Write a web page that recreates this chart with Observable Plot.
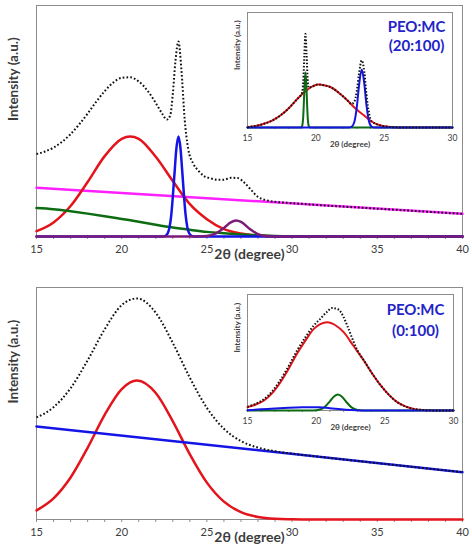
<!DOCTYPE html>
<html><head><meta charset="utf-8">
<script src="https://cdn.jsdelivr.net/npm/d3@7"></script>
<script src="https://cdn.jsdelivr.net/npm/@observablehq/plot@0.6"></script>
<style>
body{margin:0;background:#fff;}
#wrap{position:relative;width:472px;height:550px;overflow:hidden;}
#wrap svg{display:block;}
</style></head><body><div id="wrap"></div>
<script>
// ---------- tick labels ----------
const xTicksMain = [15, 20, 25, 30, 35, 40];
const xTicksInset = [15, 20, 25, 30];

// ---------- top panel PEO:MC (20:100) ----------
const topRedX = [15,16,17,18,19,20,20.5,21,22,23,24,25,26,27,28,29,30,40];
const topRedY = [2.3,6.1,13.2,23.6,34.8,42.3,43.3,42.3,34.5,24,14,7.5,3.2,1.3,0.4,0.1,0,0];
const topBlueX = [15,22.3,22.5,22.7,22.9,23.1,23.2,23.33,23.45,23.55,23.75,23.95,24.15,24.4,40];
const topBlueY = [0,0,0.1,1.4,8.7,27.4,37.4,43.3,38.2,28.5,9.4,1.5,0.1,0,0];
const topGreenX = [15,16,17,18,19,20,21,22,23,24,25,26,27,28,29,30,31,40];
const topGreenY = [12.3,11.8,10.9,9.9,8.8,7.6,6.4,5.1,3.9,2.9,2.0,1.4,0.9,0.5,0.2,0.1,0,0];
const topPurpleX = [15,24,24.5,25,25.5,26,26.4,26.72,27,27.5,28,28.5,29,40];
const topPurpleY = [0,0,0.02,0.2,1.2,3.7,6.1,6.9,6.3,3.4,1.0,0.16,0,0];
const topMagentaX = [15,40];
const topMagentaY = [21.1,9.8];
const topDotX = [15,15.5,16,16.5,17,17.5,18,18.5,19,19.5,20,20.5,21,21.5,22,22.4,22.65,22.85,23.0,23.15,23.33,23.5,23.7,23.9,24.2,24.5,24.8,25.2,25.6,26,26.4,26.8,27.2,27.6,28,28.5,29,29.5,30,31,32,34,36,38,40];
const topDotY = [35.7,36.8,38.5,41.0,44.3,48.5,53.2,58.3,62.9,66.6,68.7,68.9,67.1,63.3,57.8,52.9,50.6,52.5,61.7,75.6,84.4,72.6,50.4,38,31.5,28.5,26.3,25.2,24.6,24.6,25.4,25.3,23.3,20.1,17.1,15.7,15.0,14.7,14.4,13.9,13.4,12.5,11.6,10.7,9.8];

// ---------- top inset ----------
const tiRedX = [15,15.6,16.2,16.8,17.4,18,18.66,19.2,19.63,20.17,20.7,21.1,21.7,22.32,22.9,23.54,24.1,24.76,25.4,26,27,30];
const tiRedY = [0.3,1.3,3.2,6,10.4,16.5,25,31,35,37.4,36.5,35,30,23.5,16.5,10.4,5,1.7,0.5,0.1,0,0];
const tiGreenX = [15,18.9,19.0,19.08,19.16,19.24,19.32,19.4,19.48,19.58,30];
const tiGreenY = [0,0,1.4,9.9,32.3,48,32.3,9.9,1.4,0,0];
const tiBlueX = [15,22.4,22.6,22.8,23.0,23.15,23.36,23.55,23.7,23.9,24.1,24.3,30];
const tiBlueY = [0,0,0.5,4.1,17.9,35.4,50.4,37.7,20,4.9,0.6,0,0];
const tiDotX = [15,15.6,16.2,16.8,17.4,18,18.66,18.9,19.0,19.08,19.16,19.24,19.32,19.4,19.48,19.63,20.17,20.7,21.1,21.7,22.32,22.6,22.8,23.0,23.15,23.36,23.55,23.7,23.9,24.1,24.76,25.4,26,27,30];
const tiDotY = [0.3,1.3,3.2,6,10.4,16.5,25,28,30.5,40,63,81.5,64,42,34.5,35,37.4,36.5,35,30,23.5,20.5,22,32,46,58.3,48,29,12,5.2,1.7,0.5,0.1,0,0];

// ---------- bottom panel PEO:MC (0:100) ----------
const botRedX = [15,16,17,18,19,20,20.9,22,23,24,25,26,27,28,29,30,31,40];
const botRedY = [3.9,9.1,18.1,30.9,45.1,56.2,59.9,54.5,42.3,28.1,15.9,7.7,3.2,1.1,0.3,0.1,0,0];
const botBlueX = [15,40];
const botBlueY = [40.1,20.4];
const botDotX = [15,16,17,18,19,20,20.9,22,23,24,25,26,27,28,29,30,32,35,40];
const botDotY = [44.0,48.4,56.6,68.6,82.0,92.4,95.3,89.1,76.1,61.1,48.1,39.1,33.8,31.0,29.4,28.4,26.7,24.3,20.4];

// ---------- bottom inset ----------
const biRedX = [15,15.6,16.2,16.8,17.4,18,18.6,19.2,19.83,20.3,20.8,21.4,22.0,22.7,23.47,24.1,24.7,25.3,25.9,26.5,27.1,28,29,30];
const biRedY = [2.9,5.2,8.6,15,24.4,36,48.9,60,70.4,74.5,76.1,73.5,67.5,56,43.1,31.5,21.6,13.5,7.2,3.5,1.4,0.3,0,0];
const biGreenX = [15,19.8,20.2,20.6,21.0,21.3,21.58,21.9,22.2,22.6,23.0,23.4,23.8,30];
const biGreenY = [0,0.07,0.6,2.8,7.9,12.1,13.8,11.7,7.3,2.5,0.5,0.05,0,0];
const biBlueX = [15,16,17,18,19,19.6,20.2,21,21.8,22.5,23.2,24,30];
const biBlueY = [0.3,1.0,1.8,2.4,2.8,2.9,2.7,2.0,1.1,0.5,0.1,0,0];
const biDotX = [15,15.6,16.2,16.8,17.4,18,18.6,19.2,19.83,20.3,20.8,21.17,21.58,22.0,22.3,22.7,23.0,23.47,24.1,24.7,25.3,25.9,26.5,27.1,28,29,30];
const biDotY = [3.2,5.8,9.8,16.6,26.4,38.4,51.5,62.8,73.3,79,85.2,88.3,87.3,80.5,72,60,52,43.2,31.5,21.6,13.5,7.2,3.5,1.4,0.3,0,0];

const pts = (xs, ys) => xs.map((x, i) => ({x, y: ys[i]}));
const FONT = "Lato, 'Open Sans', 'DejaVu Sans', sans-serif";
const RED = "#e3141b", GREEN = "#0d6b12", BLUE = "#1414e6", MAGENTA = "#ff20ff", PURPLE = "#7b1b79";
const DOT = "#111", FRAME = "#8c8c8c", TXT = "#3c3c3c", TITLE = "#2424c8";

function mainPanel({height, marginTop, marginBottom, series, dotted}) {
  return Plot.plot({
    width: 472, height, marginLeft: 36, marginRight: 10, marginTop, marginBottom,
    x: {domain: [15, 40]}, y: {domain: [0, 100], axis: null},
    style: {fontFamily: FONT, background: "transparent", overflow: "visible"},
    marks: [
      Plot.frame({stroke: FRAME}),
      Plot.axisX({ticks: d3.range(15, 41), tickSize: 3, tickFormat: () => "", stroke: FRAME, label: null}),
      Plot.axisX({ticks: xTicksMain, tickSize: 0, tickPadding: 9, fontSize: 11, fill: TXT, label: null}),
      ...series.map(s => Plot.line(pts(s.x, s.y), {x: "x", y: "y", stroke: s.color, strokeWidth: 2.5, curve: "monotone-x"})),
      Plot.line(pts(dotted.x, dotted.y), {x: "x", y: "y", stroke: DOT, strokeWidth: 2, strokeDasharray: "1.7 2.1", strokeLinecap: "butt", curve: "monotone-x"}),
      Plot.text(["Intensity (a.u.)"], {text: d => d, frameAnchor: "left", rotate: -90, dx: -23, fontSize: 13.5, fontWeight: "bold", fill: TXT}),
      Plot.text(["2θ (degree)"], {text: d => d, frameAnchor: "bottom", dy: 18, lineAnchor: "middle", fontSize: 14, fontWeight: "bold", fill: TXT})
    ]
  });
}

function inset({left, top, height, marginRight, series, dotted, t1, t2, tdx, tdy1, tdy2}) {
  const p = Plot.plot({
    width: 235, height, marginLeft: 19, marginRight, marginTop: 4, marginBottom: 26,
    x: {domain: [15, 30]}, y: {domain: [0, 100], axis: null},
    style: {fontFamily: FONT, background: "transparent", overflow: "visible"},
    marks: [
      Plot.frame({stroke: FRAME, fill: "white"}),
      Plot.axisX({ticks: d3.range(15, 31), tickSize: 2, tickFormat: () => "", stroke: FRAME, label: null}),
      Plot.axisX({ticks: xTicksInset, tickSize: 0, tickPadding: 7, fontSize: 8.5, fill: TXT, label: null}),
      ...series.map(s => Plot.line(pts(s.x, s.y), {x: "x", y: "y", stroke: s.color, strokeWidth: 2, curve: "monotone-x"})),
      Plot.line(pts(dotted.x, dotted.y), {x: "x", y: "y", stroke: DOT, strokeWidth: 2, strokeDasharray: "1.5 1.8", strokeLinecap: "butt", curve: "monotone-x"}),
      Plot.text(["Intensity (a.u.)"], {text: d => d, frameAnchor: "left", rotate: -90, dx: -10, fontSize: 8, fontWeight: "bold", fill: TXT}),
      Plot.text(["2θ (degree)"], {text: d => d, frameAnchor: "bottom", dy: 16.5, lineAnchor: "middle", fontSize: 8, fontWeight: "bold", fill: TXT}),
      Plot.text([t1], {text: d => d, frameAnchor: "top-right", dx: tdx, dy: tdy1, textAnchor: "middle", lineAnchor: "middle", fontSize: 15, fontWeight: "bold", fill: TITLE}),
      Plot.text([t2], {text: d => d, frameAnchor: "top-right", dx: tdx, dy: tdy2, textAnchor: "middle", lineAnchor: "middle", fontSize: 15, fontWeight: "bold", fill: TITLE})
    ]
  });
  p.style.position = "absolute";
  p.style.left = left + "px";
  p.style.top = top + "px";
  return p;
}

const wrap = document.getElementById("wrap");
wrap.appendChild(mainPanel({
  height: 280, marginTop: 5, marginBottom: 44,
  series: [
    {x: topMagentaX, y: topMagentaY, color: MAGENTA},
    {x: topRedX, y: topRedY, color: RED},
    {x: topGreenX, y: topGreenY, color: GREEN},
    {x: topBlueX, y: topBlueY, color: BLUE},
    {x: topPurpleX, y: topPurpleY, color: PURPLE}
  ],
  dotted: {x: topDotX, y: topDotY}
}));
wrap.appendChild(mainPanel({
  height: 270, marginTop: 7, marginBottom: 31,
  series: [
    {x: botRedX, y: botRedY, color: RED},
    {x: botBlueX, y: botBlueY, color: BLUE}
  ],
  dotted: {x: botDotX, y: botDotY}
}));
wrap.appendChild(inset({
  left: 228, top: 8, height: 145, marginRight: 11,
  series: [
    {x: tiRedX, y: tiRedY, color: RED},
    {x: tiGreenX, y: tiGreenY, color: GREEN},
    {x: tiBlueX, y: tiBlueY, color: BLUE}
  ],
  dotted: {x: tiDotX, y: tiDotY},
  t1: "PEO:MC", t2: "(20:100)", tdx: -36, tdy1: 15, tdy2: 34
}));
wrap.appendChild(inset({
  left: 228, top: 290, height: 146, marginRight: 10,
  series: [
    {x: biRedX, y: biRedY, color: RED},
    {x: biGreenX, y: biGreenY, color: GREEN},
    {x: biBlueX, y: biBlueY, color: BLUE}
  ],
  dotted: {x: biDotX, y: biDotY},
  t1: "PEO:MC", t2: "(0:100)", tdx: -38, tdy1: 16, tdy2: 37
}));
</script></body></html>
